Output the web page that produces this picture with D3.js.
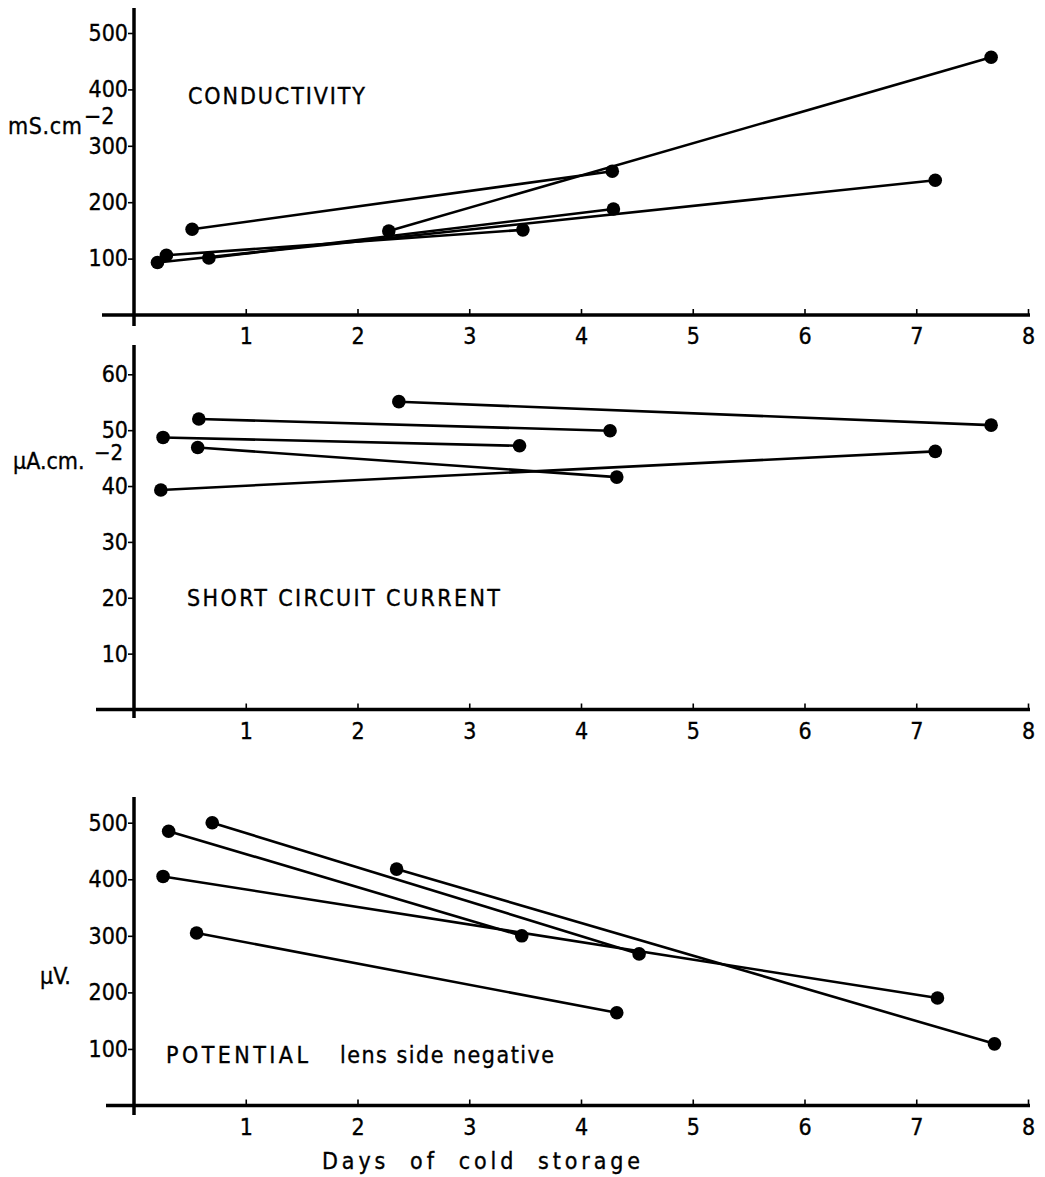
<!DOCTYPE html>
<html>
<head>
<meta charset="utf-8">
<style>
  body { margin: 0; background: #fff; }
  svg text { font-family: 'DejaVu Sans Condensed', 'DejaVu Sans', sans-serif; fill: #000; stroke: #000; stroke-width: 0.35px; }
</style>
</head>
<body>
<div id="chart"></div>
<script src="https://cdn.jsdelivr.net/npm/d3@7"></script>
<script>
var dayTicks = [1, 2, 3, 4, 5, 6, 7, 8];
var condTicks = [100, 200, 300, 400, 500];
var iscTicks = [10, 20, 30, 40, 50, 60];
var potTicks = [100, 200, 300, 400, 500];

// one row per preparation: [first reading, second reading]
var condDays   = [[2.28, 7.67], [0.52, 4.28], [0.29, 3.48], [0.67, 4.29], [0.21, 7.17]];
var condValues = [[149, 457], [152, 255], [106, 151], [101, 188], [93, 239]];
var iscDays    = [[2.37, 7.67], [0.58, 4.26], [0.26, 3.45], [0.57, 4.32], [0.24, 7.17]];
var iscValues  = [[55.1, 50.9], [52.0, 49.9], [48.7, 47.2], [46.9, 41.6], [39.3, 46.2]];
var potDays    = [[2.35, 7.70], [0.70, 4.52], [0.31, 3.47], [0.56, 4.32], [0.26, 7.19]];
var potValues  = [[418, 109], [500, 268], [485, 300], [305, 164], [405, 190]];

var width = 1045,
    height = 1177;

var svg = d3.select('#chart').append('svg')
    .attr('width', width)
    .attr('height', height);

var x = d3.scaleLinear().domain([0, 8]).range([134, 1028]);

var panels = [
    {days: condDays, values: condValues, ticks: condTicks, max: 500,
     y0: 315, yMax: 33, axisTop: 8, axisBottom: 326, axisLeft: 102},
    {days: iscDays, values: iscValues, ticks: iscTicks, max: 60,
     y0: 709.5, yMax: 374.3, axisTop: 345, axisBottom: 718, axisLeft: 96},
    {days: potDays, values: potValues, ticks: potTicks, max: 500,
     y0: 1105.5, yMax: 822.7, axisTop: 797, axisBottom: 1115, axisLeft: 106}
];

function drawPanel(p){
    var y = d3.scaleLinear().domain([0, p.max]).range([p.y0, p.yMax]);
    var g = svg.append('g');

    // thick axis lines
    g.append('line')
        .attr('x1', x(0)).attr('x2', x(0))
        .attr('y1', p.axisTop).attr('y2', p.axisBottom)
        .attr('stroke', '#000').attr('stroke-width', 3.5);
    g.append('line')
        .attr('x1', p.axisLeft).attr('x2', x(8) + 2)
        .attr('y1', y(0)).attr('y2', y(0))
        .attr('stroke', '#000').attr('stroke-width', 3.5);

    var yAxis = g.append('g')
        .attr('transform', 'translate(' + x(0) + ',0)')
        .call(d3.axisLeft(y).tickValues(p.ticks).tickSize(6).tickPadding(0).tickFormat(d3.format('d')));
    yAxis.select('.domain').remove();

    var xAxis = g.append('g')
        .attr('transform', 'translate(0,' + y(0) + ')')
        .call(d3.axisBottom(x).tickValues(dayTicks).tickSizeInner(-6).tickSizeOuter(0).tickPadding(13).tickFormat(d3.format('d')));
    xAxis.select('.domain').remove();

    [yAxis, xAxis].forEach(function(a){
        a.attr('font-family', null).attr('font-size', null);
        a.selectAll('text').style('font-size', '23px');
        a.selectAll('line').attr('stroke-width', 1.6);
    });

    var segs = d3.range(p.days.length).map(function(i){
        return {d: p.days[i], v: p.values[i]};
    });

    g.selectAll('line.seg')
        .data(segs)
        .join('line')
        .attr('class', 'seg')
        .attr('x1', function(s){ return x(s.d[0]); })
        .attr('y1', function(s){ return y(s.v[0]); })
        .attr('x2', function(s){ return x(s.d[1]); })
        .attr('y2', function(s){ return y(s.v[1]); })
        .attr('stroke', '#000')
        .attr('stroke-width', 2.6);

    var pts = [];
    segs.forEach(function(s){
        pts.push([s.d[0], s.v[0]]);
        pts.push([s.d[1], s.v[1]]);
    });

    g.selectAll('circle')
        .data(pts)
        .join('circle')
        .attr('cx', function(d){ return x(d[0]); })
        .attr('cy', function(d){ return y(d[1]); })
        .attr('r', 6.8)
        .attr('fill', '#000');
}

panels.forEach(drawPanel);

function label(txt, px, py, size, len){
    var t = svg.append('text')
        .attr('x', px).attr('y', py)
        .style('font-size', size + 'px')
        .style('white-space', 'pre')
        .text(txt);
    if(len) t.attr('textLength', len).attr('lengthAdjust', 'spacing');
    return t;
}

label('CONDUCTIVITY', 188, 104, 23, 177);
label('mS.cm', 8, 134, 23, 74);
label('\u22122', 84, 124, 23);

label('SHORT CIRCUIT CURRENT', 187, 606, 23, 313);
label('\u03bcA.cm.', 13, 469, 23);
label('\u22122', 94, 460, 22);

label('POTENTIAL', 166, 1063, 23, 142);
label('lens side negative', 340, 1063, 23, 214);
label('\u03bcV.', 40, 984, 23);

label('Days  of  cold  storage', 322, 1169, 23, 318);
</script>
</body>
</html>
